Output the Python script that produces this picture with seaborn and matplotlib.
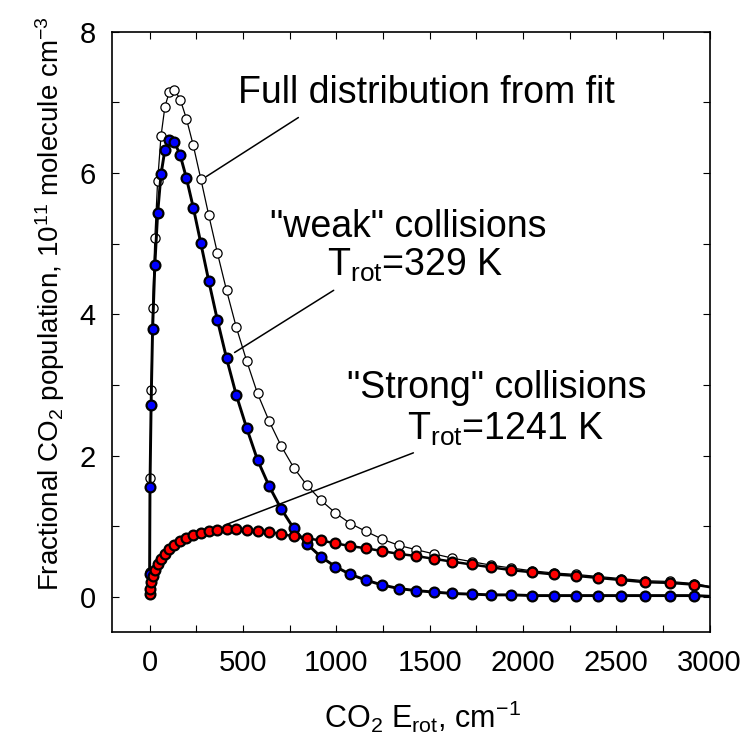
import matplotlib
matplotlib.use("Agg")
import matplotlib.pyplot as plt
import seaborn as sns
import pandas as pd
from matplotlib.ticker import MultipleLocator

# ---- data ----
E_rot = [0, 2, 8, 16, 28, 43, 61, 82, 106, 133, 164, 197, 234, 274, 317, 363,
         412, 464, 520, 578, 640, 704, 772, 843, 917, 995, 1075, 1158, 1245,
         1335, 1427, 1523, 1622, 1725, 1830, 1938, 2050, 2165, 2282, 2403,
         2527, 2654, 2785, 2918]

weak_pop = [0.32, 1.56, 2.72, 3.79, 4.70, 5.43, 5.98, 6.33, 6.47, 6.44, 6.25,
            5.93, 5.51, 5.01, 4.47, 3.92, 3.38, 2.86, 2.39, 1.94, 1.57, 1.25,
            0.97, 0.75, 0.57, 0.43, 0.32, 0.24, 0.17, 0.12, 0.09, 0.07, 0.05,
            0.04, 0.03, 0.03, 0.02, 0.02, 0.02, 0.02, 0.02, 0.02, 0.02, 0.02]

strong_pop = [0.04, 0.12, 0.21, 0.30, 0.38, 0.46, 0.54, 0.61, 0.68, 0.74, 0.79,
              0.84, 0.88, 0.91, 0.93, 0.95, 0.96, 0.96, 0.95, 0.94, 0.92, 0.89,
              0.86, 0.83, 0.80, 0.76, 0.72, 0.69, 0.65, 0.61, 0.58, 0.54, 0.50,
              0.46, 0.42, 0.38, 0.35, 0.32, 0.30, 0.27, 0.24, 0.21, 0.20, 0.175]

full_pop = [0.36, 1.68, 2.93, 4.09, 5.08, 5.89, 6.52, 6.94, 7.15, 7.18, 7.04,
            6.77, 6.39, 5.92, 5.40, 4.87, 4.34, 3.82, 3.34, 2.88, 2.49, 2.14,
            1.83, 1.58, 1.37, 1.19, 1.04, 0.93, 0.82, 0.73, 0.67, 0.61, 0.55,
            0.50, 0.45, 0.41, 0.37, 0.34, 0.32, 0.29, 0.26, 0.23, 0.22, 0.19]

# fitted curves continue to the right edge of the plot
line_end_E = 3000
weak_end = 0.01
strong_end = 0.14
full_end = 0.15

x_ticks = [0, 500, 1000, 1500, 2000, 2500, 3000]
y_ticks = [0, 2, 4, 6, 8]

# ---- style ----
sns.set_style("ticks")
plt.rcParams["font.family"] = ["Liberation Sans", "DejaVu Sans"]
plt.rcParams["mathtext.fontset"] = "custom"
plt.rcParams["mathtext.rm"] = "Liberation Sans"
plt.rcParams["mathtext.it"] = "Liberation Sans"
plt.rcParams["mathtext.bf"] = "Liberation Sans"
plt.rcParams["mathtext.default"] = "regular"
plt.rcParams["axes.unicode_minus"] = False
for key in ["text.color", "axes.labelcolor", "xtick.color", "ytick.color",
            "axes.edgecolor"]:
    plt.rcParams[key] = "black"

fig = plt.figure(figsize=(7.47, 7.40), dpi=100)
ax = fig.add_axes([0.1503, 0.1455, 0.7997, 0.8117])

pts = pd.DataFrame({"E": E_rot, "full": full_pop, "weak": weak_pop,
                    "strong": strong_pop})
lines = pd.DataFrame({"E": E_rot + [line_end_E],
                      "full": full_pop + [full_end],
                      "weak": weak_pop + [weak_end],
                      "strong": strong_pop + [strong_end]})

# full distribution (open circles, thin line)
sns.lineplot(data=lines, x="E", y="full", ax=ax, color="black", lw=0.9,
             sort=False, estimator=None, zorder=2)
sns.scatterplot(data=pts, x="E", y="full", ax=ax, s=44, color="white",
                edgecolor="black", linewidth=0.9, zorder=3)
# weak collisions (blue, thick line)
sns.lineplot(data=lines, x="E", y="weak", ax=ax, color="black", lw=2.1,
             sort=False, estimator=None, zorder=4)
sns.scatterplot(data=pts, x="E", y="weak", ax=ax, s=50, color="#0000ff",
                edgecolor="black", linewidth=1.6, zorder=5)
# strong collisions (red)
sns.lineplot(data=lines, x="E", y="strong", ax=ax, color="black", lw=1.8,
             sort=False, estimator=None, zorder=6)
sns.scatterplot(data=pts, x="E", y="strong", ax=ax, s=50, color="#ff0000",
                edgecolor="black", linewidth=1.6, zorder=7)

ax.set_xlim(-200, 3000)
ax.set_ylim(-0.5, 8)
ax.set_xticks(x_ticks)
ax.set_yticks(y_ticks)
ax.xaxis.set_minor_locator(MultipleLocator(250))
ax.yaxis.set_minor_locator(MultipleLocator(1))
ax.tick_params(which="both", direction="in", top=True, right=True,
               length=5, width=0.8, color="black")
ax.tick_params(axis="both", labelsize=21, pad=12, labelcolor="black")
for sp in ax.spines.values():
    sp.set_linewidth(1.2)
    sp.set_color("black")

ax.set_xlabel(r"CO$_2$ E$_{rot}$, cm$^{-1}$", fontsize=22)
ax.set_ylabel(r"Fractional CO$_2$ population, 10$^{11}$ molecule cm$^{-3}$",
              fontsize=20)
ax.yaxis.set_label_coords(-0.076, 0.548)
ax.xaxis.set_label_coords(0.52, -0.11)

# annotations
afs = 27
ax.text(475, 6.99, "Full distribution from fit", fontsize=afs,
        ha="left", va="baseline")
ax.text(647, 5.10, '"weak" collisions', fontsize=afs, ha="left", va="baseline")
ax.text(952, 4.54, r"T$_{rot}$=329 K", fontsize=afs, ha="left", va="baseline")
ax.text(1059, 2.81, '"Strong" collisions', fontsize=afs, ha="left",
        va="baseline")
ax.text(1381, 2.22, r"T$_{rot}$=1241 K", fontsize=afs, ha="left",
        va="baseline")

lk = dict(arrowstyle="-", lw=1.1, color="black", shrinkA=0, shrinkB=0)
ax.annotate("", xy=(304, 5.95), xytext=(797, 6.785), arrowprops=lk)
ax.annotate("", xy=(455, 3.46), xytext=(986, 4.34), arrowprops=lk)
ax.annotate("", xy=(415, 1.03), xytext=(1413, 2.04), arrowprops=lk)

fig.savefig("out.png", dpi=100)
